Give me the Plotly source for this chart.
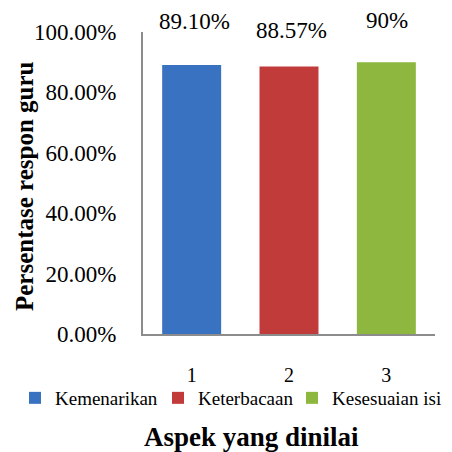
import plotly.graph_objects as go

categories = ["1", "2", "3"]
series_names = ["Kemenarikan", "Keterbacaan", "Kesesuaian isi"]
values = [0.891, 0.8857, 0.90]
value_labels = ["89.10%", "88.57%", "90%"]
colors = ["#3a72c2", "#c23b3b", "#8db73f"]
x_title = "Aspek yang dinilai"
y_title = "Persentase respon guru"

# styling offsets for the manually placed value labels (px)
label_yshift = [43, 36, 42]
label_xshift = [3, 2.5, 1]
legend_widths = [98, 89, 116]

FONT = "Liberation Serif"

fig = go.Figure()
for cat, name, v, c, lw in zip(categories, series_names, values, colors, legend_widths):
    fig.add_trace(go.Bar(
        x=[cat], y=[v], name=name, marker=dict(color=c, line=dict(width=0)),
        width=0.606, hoverinfo="skip", legendwidth=lw,
    ))

for i, (v, t, ys, xs) in enumerate(zip(values, value_labels, label_yshift, label_xshift)):
    fig.add_annotation(x=i, y=v, text=t, showarrow=False, yanchor="middle",
                       yshift=ys, xshift=xs, font=dict(family=FONT, size=23, color="#000"))

# axis titles
fig.add_annotation(xref="paper", yref="paper", x=(251 - 143) / 292, y=-(437 - 334) / 302,
                   xanchor="center", yanchor="middle", showarrow=False,
                   text="<b>" + x_title + "</b>", font=dict(family=FONT, size=27, color="#000"))
fig.add_annotation(xref="paper", yref="paper", x=(24.5 - 143) / 292, y=(334 - 186.5) / 302,
                   xanchor="center", yanchor="middle", showarrow=False, textangle=-90,
                   text="<b>" + y_title + "</b>", font=dict(family=FONT, size=25, color="#000"))

fig.update_layout(
    width=452, height=452,
    margin=dict(l=143, r=17, t=32, b=118, autoexpand=False),
    paper_bgcolor="white", plot_bgcolor="white",
    barmode="overlay",
    font=dict(family=FONT, color="#000"),
    showlegend=True,
    legend=dict(
        orientation="h",
        x=(15 - 143) / 292, xanchor="left", y=-(398 - 334) / 302, yanchor="middle",
        font=dict(family=FONT, size=19, color="#000"),
        itemwidth=30, tracegroupgap=0, traceorder="normal",
        bgcolor="rgba(0,0,0,0)", borderwidth=0,
    ),
    xaxis=dict(
        type="category", showline=True, linecolor="#8c8c8c", linewidth=2,
        ticks="", showgrid=False, tickfont=dict(family=FONT, size=20),
        ticklabelstandoff=22, automargin=False,
    ),
    yaxis=dict(
        range=[0, 1.0], tickvals=[0, 0.2, 0.4, 0.6, 0.8, 1.0], tickformat=".2%",
        showline=True, linecolor="#8c8c8c", linewidth=2, ticks="", showgrid=False,
        zeroline=False, tickfont=dict(family=FONT, size=23), ticklabelstandoff=20,
        automargin=False,
    ),
)

fig.write_html("out.html")
